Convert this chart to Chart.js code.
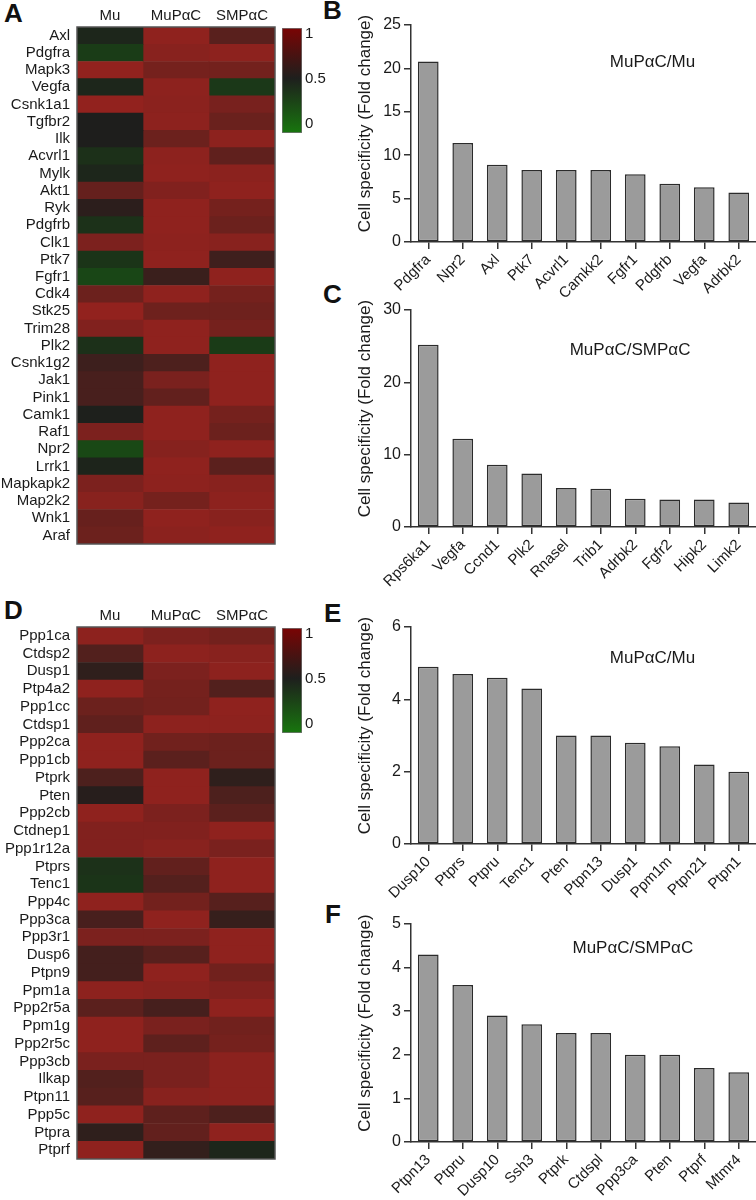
<!DOCTYPE html>
<html>
<head>
<meta charset="utf-8">
<script src="https://cdn.jsdelivr.net/npm/chart.js@4.4.1/dist/chart.umd.min.js"></script>
<style>
body { margin: 0; background: #fff; width: 756px; height: 1200px; position: relative; overflow: hidden; font-family: "Liberation Sans", Arial, sans-serif; }
canvas { position: absolute; }
.tag { position: absolute; font-weight: bold; font-size: 26px; line-height: 26px; color: #111; }
</style>
</head>
<body>
<div class="tag" style="left:4px;top:0px">A</div>
<div class="tag" style="left:323px;top:-3px">B</div>
<div class="tag" style="left:323px;top:281px">C</div>
<div class="tag" style="left:4px;top:597px">D</div>
<div class="tag" style="left:324px;top:600px">E</div>
<div class="tag" style="left:325px;top:901px">F</div>

<canvas id="heatA" width="278" height="560" style="left:0;top:0"></canvas>
<canvas id="barA" width="60" height="130" style="left:278px;top:15px"></canvas>
<canvas id="chartB" width="436" height="300" style="left:320px;top:0"></canvas>
<canvas id="chartC" width="436" height="300" style="left:320px;top:290px"></canvas>
<canvas id="heatD" width="278" height="575" style="left:0;top:600px"></canvas>
<canvas id="barD" width="60" height="130" style="left:278px;top:615px"></canvas>
<canvas id="chartE" width="436" height="300" style="left:320px;top:600px"></canvas>
<canvas id="chartF" width="436" height="305" style="left:320px;top:895px"></canvas>

<script>
// heatmap columns
const sampleCols = ['Mu', 'MuPαC', 'SMPαC'];
const colTicks = [0.5, 1.5, 2.5];
const cbTicks = [0, 0.5, 1];
const cbRange = [-0.104, 1.065];

// kinases (A)
const kinaseGenes = ['Axl', 'Pdgfra', 'Mapk3', 'Vegfa', 'Csnk1a1', 'Tgfbr2', 'Ilk', 'Acvrl1', 'Mylk', 'Akt1',
    'Ryk', 'Pdgfrb', 'Clk1', 'Ptk7', 'Fgfr1', 'Cdk4', 'Stk25', 'Trim28', 'Plk2', 'Csnk1g2',
    'Jak1', 'Pink1', 'Camk1', 'Raf1', 'Npr2', 'Lrrk1', 'Mapkapk2', 'Map2k2', 'Wnk1', 'Araf'];
const kinaseMu = [0.45, 0.31, 0.99, 0.45, 0.99, 0.50, 0.50, 0.39, 0.45, 0.80,
    0.56, 0.38, 0.90, 0.36, 0.25, 0.83, 0.99, 0.92, 0.39, 0.63,
    0.68, 0.68, 0.49, 0.90, 0.24, 0.46, 0.90, 0.95, 0.81, 0.83];
const kinaseMuPaC = [0.98, 0.95, 0.87, 0.97, 0.96, 0.97, 0.83, 0.97, 0.98, 0.92,
    0.98, 0.98, 0.97, 0.98, 0.62, 0.98, 0.84, 0.98, 0.98, 0.70,
    0.89, 0.79, 0.98, 0.98, 0.94, 0.98, 0.97, 0.87, 0.98, 0.96];
const kinaseSMPaC = [0.75, 0.97, 0.86, 0.34, 0.88, 0.82, 0.97, 0.78, 0.96, 0.98,
    0.87, 0.83, 0.95, 0.64, 0.98, 0.87, 0.84, 0.87, 0.32, 0.98,
    0.98, 0.98, 0.87, 0.83, 0.98, 0.76, 0.95, 0.97, 0.95, 0.98];

// phosphatases (D)
const phosGenes = ['Ppp1ca', 'Ctdsp2', 'Dusp1', 'Ptp4a2', 'Ppp1cc', 'Ctdsp1', 'Ppp2ca', 'Ppp1cb', 'Ptprk', 'Pten',
    'Ppp2cb', 'Ctdnep1', 'Ppp1r12a', 'Ptprs', 'Tenc1', 'Ppp4c', 'Ppp3ca', 'Ppp3r1', 'Dusp6', 'Ptpn9',
    'Ppm1a', 'Ppp2r5a', 'Ppm1g', 'Ppp2r5c', 'Ppp3cb', 'Ilkap', 'Ptpn11', 'Ppp5c', 'Ptpra', 'Ptprf'];
const phosMu = [0.97, 0.72, 0.57, 0.98, 0.83, 0.78, 0.98, 0.98, 0.70, 0.54,
    0.98, 0.92, 0.92, 0.38, 0.36, 0.98, 0.68, 0.90, 0.66, 0.66,
    0.97, 0.76, 0.98, 0.98, 0.89, 0.72, 0.74, 0.98, 0.57, 0.98];
const phosMuPaC = [0.90, 0.97, 0.90, 0.87, 0.86, 0.97, 0.85, 0.76, 0.98, 0.98,
    0.90, 0.92, 0.95, 0.79, 0.73, 0.86, 0.98, 0.90, 0.74, 0.98,
    0.95, 0.67, 0.89, 0.77, 0.89, 0.89, 0.95, 0.77, 0.79, 0.59];
const phosSMPaC = [0.86, 0.95, 0.97, 0.72, 0.98, 0.97, 0.83, 0.83, 0.57, 0.70,
    0.76, 0.98, 0.89, 0.98, 0.98, 0.74, 0.60, 0.98, 0.98, 0.85,
    0.92, 0.98, 0.85, 0.87, 0.96, 0.96, 0.96, 0.70, 0.98, 0.45];

// fold change bars
const genesB = ['Pdgfra', 'Npr2', 'Axl', 'Ptk7', 'Acvrl1', 'Camkk2', 'Fgfr1', 'Pdgfrb', 'Vegfa', 'Adrbk2'];
const foldB = [20.8, 11.4, 8.9, 8.3, 8.3, 8.3, 7.8, 6.7, 6.3, 5.7];
const genesC = ['Rps6ka1', 'Vegfa', 'Ccnd1', 'Plk2', 'Rnasel', 'Trib1', 'Adrbk2', 'Fgfr2', 'Hipk2', 'Limk2'];
const foldC = [25.2, 12.2, 8.6, 7.4, 5.4, 5.3, 3.9, 3.8, 3.8, 3.4];
const genesE = ['Dusp10', 'Ptprs', 'Ptpru', 'Tenc1', 'Pten', 'Ptpn13', 'Dusp1', 'Ppm1m', 'Ptpn21', 'Ptpn1'];
const foldE = [4.9, 4.7, 4.6, 4.3, 3.0, 3.0, 2.8, 2.7, 2.2, 2.0];
const genesF = ['Ptpn13', 'Ptpru', 'Dusp10', 'Ssh3', 'Ptprk', 'Ctdspl', 'Ppp3ca', 'Pten', 'Ptprf', 'Mtmr4'];
const foldF = [4.3, 3.6, 2.9, 2.7, 2.5, 2.5, 2.0, 2.0, 1.7, 1.6];

const yTitleText = 'Cell specificity (Fold change)';

Chart.defaults.font.family = '"Liberation Sans", Arial, sans-serif';
Chart.defaults.color = '#1a1a1a';

const hiColor = [148, 34, 30], midColor = [30, 30, 28], loColor = [20, 110, 15];
function heatColor(v) {
    const from = v < 0.5 ? loColor : midColor;
    const to = v < 0.5 ? midColor : hiColor;
    const t = v < 0.5 ? v / 0.5 : (v - 0.5) / 0.5;
    const c = from.map((a, k) => Math.round(a + (to[k] - a) * t));
    return 'rgb(' + c.join(',') + ')';
}

const framePlugin = {
    id: 'frame',
    afterDatasetsDraw(chart) {
        const { ctx, chartArea: a } = chart;
        ctx.save();
        ctx.strokeStyle = '#555';
        ctx.lineWidth = 1.5;
        ctx.strokeRect(a.left, a.top, a.right - a.left, a.bottom - a.top);
        ctx.restore();
    }
};

// ratio label inside the plot + rotated y title (sits a bit above the centre in the figure)
const notePlugin = {
    id: 'note',
    afterDraw(chart, args, opts) {
        const { ctx, chartArea: a } = chart;
        ctx.save();
        ctx.fillStyle = '#1a1a1a';
        ctx.textAlign = 'center';
        ctx.textBaseline = 'middle';
        ctx.font = '17px "Liberation Sans", Arial, sans-serif';
        ctx.fillText(opts.text, a.left + opts.fx * (a.right - a.left), a.top + opts.fy * (a.bottom - a.top));
        ctx.translate(45, (a.top + a.bottom) / 2 - 10);
        ctx.rotate(-Math.PI / 2);
        ctx.fillText(yTitleText, 0, 0);
        ctx.restore();
    }
};

function plotHeatmap(id, genes, columns, bottomPad) {
    new Chart(document.getElementById(id), {
        type: 'bar',
        data: {
            labels: genes,
            datasets: columns.map((col, j) => ({
                data: col.map(() => [j, j + 1]),
                backgroundColor: col.map(heatColor),
                borderWidth: 0,
                grouped: false,
                barPercentage: 1,
                categoryPercentage: 1
            }))
        },
        options: {
            indexAxis: 'y',
            responsive: false,
            animation: false,
            devicePixelRatio: 1,
            layout: { padding: { top: 0, right: 3, bottom: bottomPad, left: 0 } },
            plugins: { legend: { display: false }, tooltip: { enabled: false } },
            scales: {
                x: {
                    type: 'linear', position: 'top', min: 0, max: 3,
                    grid: { display: false, drawTicks: false }, border: { display: false },
                    afterBuildTicks: s => { s.ticks = colTicks.map(v => ({ value: v })); },
                    ticks: { callback: (v, i) => sampleCols[i], font: { size: 15 }, padding: 2, autoSkip: false, maxRotation: 0 },
                    afterFit: s => { s.height = 27; }
                },
                y: {
                    grid: { display: false, drawTicks: false }, border: { display: false },
                    ticks: { font: { size: 15 }, padding: 7, autoSkip: false },
                    afterFit: s => { s.width = 77; }
                }
            }
        },
        plugins: [framePlugin]
    });
}

function plotColorbar(id) {
    new Chart(document.getElementById(id), {
        type: 'bar',
        data: {
            labels: [''],
            datasets: [{
                data: [cbRange],
                backgroundColor: function (context) {
                    const { ctx, chartArea } = context.chart;
                    if (!chartArea) return null;
                    const g = ctx.createLinearGradient(0, chartArea.bottom, 0, chartArea.top);
                    g.addColorStop(0, 'rgb(24,118,14)');
                    g.addColorStop(0.52, 'rgb(30,31,29)');
                    g.addColorStop(1, 'rgb(122,4,4)');
                    return g;
                },
                borderColor: '#777',
                borderWidth: 1,
                borderSkipped: false,
                barPercentage: 1,
                categoryPercentage: 1
            }]
        },
        options: {
            responsive: false,
            animation: false,
            devicePixelRatio: 1,
            layout: { padding: { top: 13, right: 0, bottom: 12, left: 4 } },
            plugins: { legend: { display: false }, tooltip: { enabled: false } },
            scales: {
                x: { display: false },
                y: {
                    position: 'right', min: cbRange[0], max: cbRange[1],
                    grid: { display: false, drawTicks: false }, border: { display: false },
                    afterBuildTicks: s => { s.ticks = cbTicks.map(v => ({ value: v })); },
                    ticks: { callback: v => String(v), font: { size: 15 }, padding: 3 },
                    afterFit: s => { s.width = 36; }
                }
            }
        }
    });
}

function plotFoldChart(id, labels, values, yMax, yStep, note, topPad, axisHeight) {
    new Chart(document.getElementById(id), {
        type: 'bar',
        data: {
            labels: labels,
            datasets: [{
                data: values,
                backgroundColor: '#9b9b9b',
                borderColor: '#2b2b2b',
                borderWidth: 1.5,
                borderSkipped: false,
                barPercentage: 0.6,
                categoryPercentage: 1
            }]
        },
        options: {
            responsive: false,
            animation: false,
            devicePixelRatio: 1,
            layout: { padding: { top: topPad, right: 0, bottom: 0, left: 0 } },
            plugins: { legend: { display: false }, tooltip: { enabled: false }, note: note },
            scales: {
                x: {
                    grid: { offset: false, drawOnChartArea: false, tickLength: 7, color: '#333', lineWidth: 1.5 },
                    border: { color: '#333', width: 1.5 },
                    ticks: { font: { size: 15 }, minRotation: 45, maxRotation: 45, autoSkip: false, padding: 2 },
                    afterFit: s => { s.height = axisHeight; }
                },
                y: {
                    min: 0, max: yMax,
                    grid: { drawOnChartArea: false, tickLength: 7, color: '#333', lineWidth: 1.5 },
                    border: { color: '#333', width: 1.5 },
                    ticks: { stepSize: yStep, font: { size: 16 }, padding: 3 },
                    afterFit: s => { s.width = 91; }
                }
            }
        },
        plugins: [notePlugin]
    });
}

plotHeatmap('heatA', kinaseGenes, [kinaseMu, kinaseMuPaC, kinaseSMPaC], 8);
plotColorbar('barA');
plotHeatmap('heatD', phosGenes, [phosMu, phosMuPaC, phosSMPaC], 9);
plotColorbar('barD');

plotFoldChart('chartB', genesB, foldB, 25, 5, { text: 'MuPαC/Mu', fx: 0.70, fy: 0.17 }, 25, 58);
plotFoldChart('chartC', genesC, foldC, 30, 10, { text: 'MuPαC/SMPαC', fx: 0.635, fy: 0.184 }, 20, 63);
plotFoldChart('chartE', genesE, foldE, 6, 2, { text: 'MuPαC/Mu', fx: 0.70, fy: 0.143 }, 27, 56);
plotFoldChart('chartF', genesF, foldF, 5, 1, { text: 'MuPαC/SMPαC', fx: 0.643, fy: 0.11 }, 29, 58);
</script>
</body>
</html>
